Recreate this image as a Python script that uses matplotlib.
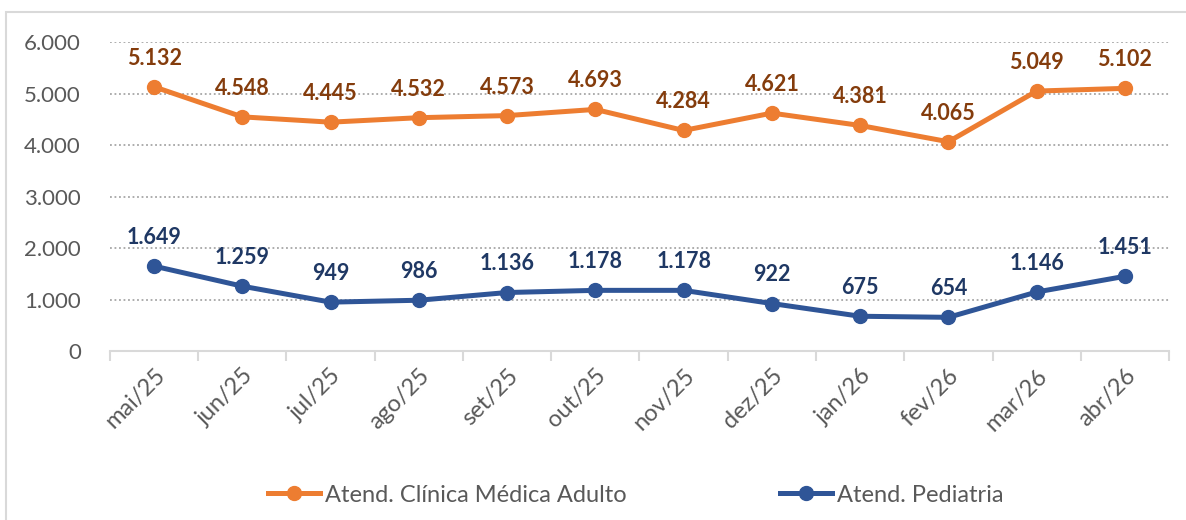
import matplotlib.pyplot as plt
from matplotlib.patches import Rectangle
from matplotlib.ticker import FuncFormatter

plt.rcParams['font.family'] = ['Lato', 'DejaVu Sans']

# === dados ===
meses = ['mai/25', 'jun/25', 'jul/25', 'ago/25', 'set/25', 'out/25',
         'nov/25', 'dez/25', 'jan/26', 'fev/26', 'mar/26', 'abr/26']
clinica_adulto = [5132, 4548, 4445, 4532, 4573, 4693, 4284, 4621, 4381, 4065, 5049, 5102]
pediatria = [1649, 1259, 949, 986, 1136, 1178, 1178, 922, 675, 654, 1146, 1451]

laranja = '#ED7D31'
azul = '#2F5597'
cinza_txt = '#595959'


def fmt_br(v):
    return f'{int(v):,}'.replace(',', '.')


fig = plt.figure(figsize=(11.86, 5.2), dpi=100)
ax = fig.add_axes([0.0927, 0.325, 0.8930, 0.594])

# borda da área do gráfico (como no Excel)
fig.patches.append(Rectangle((6 / 1186, -0.05), 1.2, 1 - 12 / 520 + 0.05,
                             transform=fig.transFigure, fill=False,
                             edgecolor='#D9D9D9', linewidth=1.5))

x = list(range(len(meses)))
ax.plot(x, clinica_adulto, color=laranja, linewidth=3.6, marker='o',
        markersize=10, label='Atend. Clínica Médica Adulto', zorder=3)
ax.plot(x, pediatria, color=azul, linewidth=3.6, marker='o',
        markersize=10, label='Atend. Pediatria', zorder=3)

# rótulos de dados
for xi, v in zip(x, clinica_adulto):
    ax.annotate(fmt_br(v), (xi, v), xytext=(0, 13), textcoords='offset points',
                ha='center', va='bottom', fontsize=15.5, fontweight='bold', color='#843C0C')
for xi, v in zip(x, pediatria):
    ax.annotate(fmt_br(v), (xi, v), xytext=(0, 13), textcoords='offset points',
                ha='center', va='bottom', fontsize=15.5, fontweight='bold', color='#1F3864')

ax.set_xlim(-0.5, len(meses) - 0.5)
ax.set_ylim(0, 6000)
ax.set_yticks(range(0, 6001, 1000))
ax.yaxis.set_major_formatter(FuncFormatter(lambda v, p: fmt_br(v)))
ax.tick_params(axis='y', length=0, pad=21, labelsize=16, labelcolor=cinza_txt)

# eixo x: marcas entre categorias, rótulos inclinados
ax.set_xticks([i - 0.5 for i in range(len(meses) + 1)])
ax.set_xticklabels([])
ax.set_xticks(x, minor=True)
ax.set_xticklabels(meses, minor=True, rotation=45, ha='right', va='top',
                   rotation_mode='anchor', fontsize=17, color=cinza_txt)
ax.tick_params(axis='x', which='major', length=7, width=1.5, color='#D9D9D9', direction='out')
ax.tick_params(axis='x', which='minor', length=0, pad=10)

for lado in ['top', 'right', 'left']:
    ax.spines[lado].set_visible(False)
ax.spines['bottom'].set_color('#D9D9D9')
ax.spines['bottom'].set_linewidth(1.5)

for g in range(1000, 6001, 1000):
    ax.axhline(g, color='#A6A6A6', linestyle=(0, (1, 1.5)), linewidth=1.3, zorder=1)

fig.legend(loc='center', bbox_to_anchor=(0.536, 0.048), ncol=2, frameon=False,
           fontsize=17, labelcolor=cinza_txt, handlelength=2.2, handletextpad=0.2,
           columnspacing=6.5)

fig.savefig('out.png', dpi=100)
